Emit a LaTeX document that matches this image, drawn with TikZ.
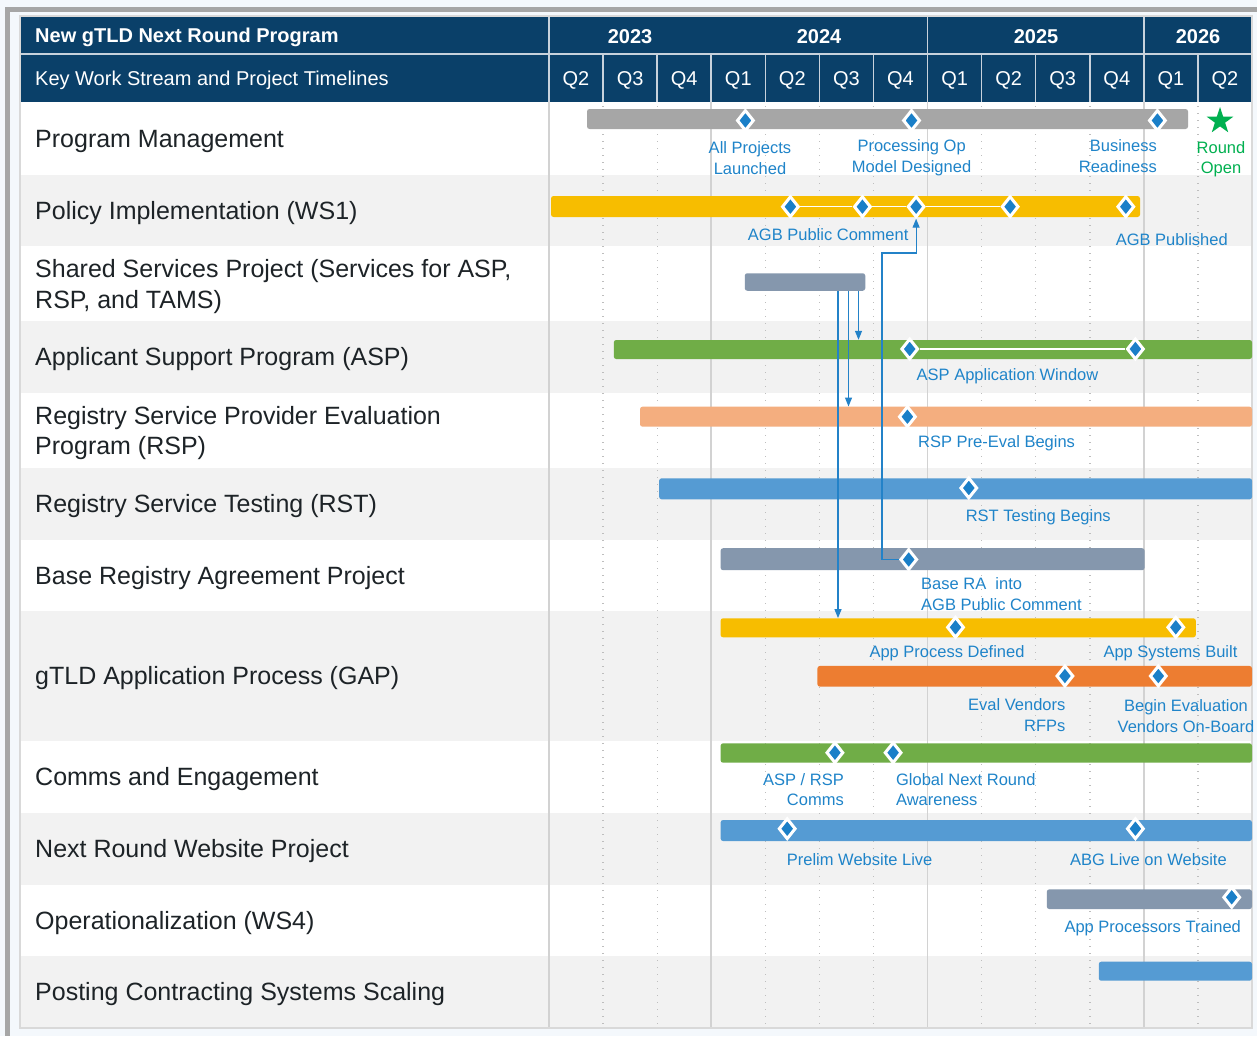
\documentclass[tikz,border=0pt]{standalone}
\usepackage{fontspec}
\setmainfont{Liberation Sans}
\usetikzlibrary{shapes.geometric,arrows.meta}
\definecolor{pagebg}{RGB}{244,248,252}
\definecolor{framegrey}{RGB}{166,166,166}
\definecolor{navy}{RGB}{10,64,105}
\definecolor{hdrline}{RGB}{200,210,220}
\definecolor{rowgrey}{RGB}{242,242,242}
\definecolor{gridgrey}{RGB}{210,210,210}
\definecolor{dotgrey}{RGB}{190,190,190}
\definecolor{ink}{RGB}{29,35,39}
\definecolor{pmgrey}{RGB}{166,166,166}
\definecolor{ylw}{RGB}{247,189,0}
\definecolor{slate}{RGB}{133,151,173}
\definecolor{grn}{RGB}{112,173,71}
\definecolor{salmon}{RGB}{244,174,127}
\definecolor{bblue}{RGB}{85,155,211}
\definecolor{orng}{RGB}{237,125,49}
\definecolor{msblue}{RGB}{26,127,200}
\definecolor{lblue}{RGB}{31,132,201}
\definecolor{flowblue}{RGB}{35,130,200}
\definecolor{okgreen}{RGB}{0,176,80}
\tikzset{
  bar/.style={rectangle, rounded corners=2.5pt, inner sep=0pt, minimum height=20pt},
  ms/.style={diamond, fill=msblue, draw=white, line width=3pt, minimum width=17pt, minimum height=21pt, inner sep=0pt},
  lbl/.style={text=lblue, font=\fontsize{16.5}{20.5}\selectfont, inner sep=0pt, yshift=-1.5pt},
  rowlbl/.style={anchor=west, text=ink, font=\fontsize{25}{30.5}\selectfont, inner sep=0pt, align=left, yshift=-2.5pt},
  hdr/.style={text=white, font=\fontsize{20}{24}\selectfont, inner sep=0pt, yshift=-2pt},
  flow/.style={draw=flowblue, line width=1.2pt, -{Triangle[length=9pt,width=7pt]}},
  link/.style={draw=white, line width=1.5pt},
  dotgrid/.style={draw=dotgrey, line width=1.4pt, dash pattern=on 1.4pt off 5.6pt},
}
\begin{document}
\begin{tikzpicture}[x=1pt, y=-1pt]
  \useasboundingbox (0,0) rectangle (1257,1036);
  \fill[pagebg] (0,0) rectangle (1257,1036);
  \fill[framegrey] (5,7) rectangle (1257,12);
  \fill[framegrey] (5,7) rectangle (10,1036);

  \fill[white] (20,102) rectangle (1252,1028);
  \fill[rowgrey] (20,175) rectangle (1252,246);
  \fill[rowgrey] (20,321) rectangle (1252,393);
  \fill[rowgrey] (20,468) rectangle (1252,540);
  \fill[rowgrey] (20,611) rectangle (1252,741);
  \fill[rowgrey] (20,813) rectangle (1252,885);
  \fill[rowgrey] (20,956) rectangle (1252,1028);

  \fill[navy] (20,16) rectangle (1252,102);
  \begin{scope}[draw=hdrline, line width=1.5pt]
    \draw (20,54) -- (1252,54);
    \draw (549,16) -- (549,102);
    \draw (927.5,16) -- (927.5,102);
    \draw (1143.8,16) -- (1143.8,102);
    \draw (603.1,54) -- (603.1,102);
    \draw (657.2,54) -- (657.2,102);
    \draw (711.2,54) -- (711.2,102);
    \draw (765.3,54) -- (765.3,102);
    \draw (819.4,54) -- (819.4,102);
    \draw (873.5,54) -- (873.5,102);
    \draw (981.6,54) -- (981.6,102);
    \draw (1035.7,54) -- (1035.7,102);
    \draw (1089.8,54) -- (1089.8,102);
    \draw (1197.9,54) -- (1197.9,102);
  \end{scope}

  \begin{scope}[draw=gridgrey, line width=1.5pt]
    \draw (549,102) -- (549,1028);
    \draw (711.2,102) -- (711.2,1028);
    \draw (927.5,102) -- (927.5,1028);
    \draw (1143.8,102) -- (1143.8,1028);
  \end{scope}
  \begin{scope}[dotgrid]
    \draw (603.1,106) -- (603.1,1028);
    \draw (657.2,106) -- (657.2,1028);
    \draw (765.3,106) -- (765.3,1028);
    \draw (819.4,106) -- (819.4,1028);
    \draw (873.5,106) -- (873.5,1028);
    \draw (981.6,106) -- (981.6,1028);
    \draw (1035.7,106) -- (1035.7,1028);
    \draw (1089.8,106) -- (1089.8,1028);
    \draw (1197.9,106) -- (1197.9,1028);
  \end{scope}
  \draw[draw=gridgrey!85, line width=1.5pt] (20,16) rectangle (1252,1028);

  \node[hdr, anchor=west, font=\bfseries\fontsize{20}{24}\selectfont] (title) at (35,35) {New gTLD Next Round Program};
  \node[hdr, anchor=west] (subtitle) at (35,78) {Key Work Stream and Project Timelines};
  \path[hdr, font=\bfseries\fontsize{20}{24}\selectfont]
    (630,35) node (y23) {2023}
    (819,35) node (y24) {2024}
    (1036,35) node (y25) {2025}
    (1198,35) node (y26) {2026};
  \path[hdr]
    (576,78) node (q1) {Q2}
    (630.1,78) node (q2) {Q3}
    (684.2,78) node (q3) {Q4}
    (738.3,78) node (q4) {Q1}
    (792.3,78) node (q5) {Q2}
    (846.4,78) node (q6) {Q3}
    (900.5,78) node (q7) {Q4}
    (954.6,78) node (q8) {Q1}
    (1008.7,78) node (q9) {Q2}
    (1062.7,78) node (q10) {Q3}
    (1116.8,78) node (q11) {Q4}
    (1170.9,78) node (q12) {Q1}
    (1225,78) node (q13) {Q2};

  \path[rowlbl]
    (35,139) node (r1) {Program Management}
    (35,210.5) node (r2) {Policy Implementation (WS1)}
    (35,284) node (r3) {Shared Services Project (Services for ASP,\\RSP, and TAMS)}
    (35,357) node (r4) {Applicant Support Program (ASP)}
    (35,430.5) node (r5) {Registry Service Provider Evaluation\\Program (RSP)}
    (35,504) node (r6) {Registry Service Testing (RST)}
    (35,575.5) node (r7) {Base Registry Agreement Project}
    (35,676) node (r8) {gTLD Application Process (GAP)}
    (35,777) node (r9) {Comms and Engagement}
    (35,849) node (r10) {Next Round Website Project}
    (35,920.5) node (r11) {Operationalization (WS4)}
    (35,992) node (r12) {Posting Contracting Systems Scaling};

  \node[bar, fill=pmgrey, minimum width=601pt] (pm) at (887.5,119) {};
  \node[bar, fill=ylw, minimum width=589pt, minimum height=21pt] (pol) at (845.5,206.5) {};
  \node[bar, fill=slate, minimum width=120.5pt, minimum height=17.5pt] (ss) at (805,282) {};
  \node[bar, fill=grn, minimum width=638.3pt, minimum height=19pt] (asp) at (932.9,349.5) {};
  \node[bar, fill=salmon, minimum width=612pt] (rsp) at (946,416.7) {};
  \node[bar, fill=bblue, minimum width=593pt, minimum height=21pt] (rst) at (955.6,488.8) {};
  \node[bar, fill=slate, minimum width=424pt, minimum height=22pt] (bra) at (932.6,559.2) {};
  \node[bar, fill=ylw, minimum width=475.3pt, minimum height=19pt] (gapa) at (958.2,627.8) {};
  \node[bar, fill=orng, minimum width=434.6pt, minimum height=20.7pt] (gapb) at (1034.7,676.3) {};
  \node[bar, fill=grn, minimum width=531.4pt, minimum height=19.4pt] (cmm) at (986.3,753) {};
  \node[bar, fill=bblue, minimum width=531.4pt, minimum height=21pt] (web) at (986.3,830.5) {};
  \node[bar, fill=slate, minimum width=205.2pt, minimum height=19.7pt] (ops) at (1149.4,899.2) {};
  \node[bar, fill=bblue, minimum width=153.3pt, minimum height=19pt] (pcs) at (1175.4,971.2) {};

  \path
    (745.4,120.5) node[ms] (m1) {}
    (911.5,120.5) node[ms] (m2) {}
    (1157.4,120.5) node[ms] (m3) {}
    (790.4,206.7) node[ms] (p1) {}
    (862.4,206.7) node[ms] (p2) {}
    (916.1,206.7) node[ms] (p3) {}
    (1010.1,206.7) node[ms] (p4) {}
    (1125.8,206.7) node[ms] (p5) {}
    (909.7,349) node[ms] (a1) {}
    (1135.4,349) node[ms] (a2) {}
    (907.4,416.7) node[ms] (v1) {}
    (968.8,488) node[ms] (s1) {}
    (908.7,559.5) node[ms] (b1) {}
    (955.5,627.3) node[ms] (g1) {}
    (1175.8,627.3) node[ms] (g2) {}
    (1064.9,676) node[ms] (g3) {}
    (1158.3,676) node[ms] (g4) {}
    (834.9,752.7) node[ms] (c1) {}
    (893.1,752.7) node[ms] (c2) {}
    (787.2,828.7) node[ms] (w1) {}
    (1135.4,828.7) node[ms] (w2) {}
    (1231.7,897.3) node[ms] (o1) {};
  \node[star, star points=5, star point ratio=2.6, fill=okgreen, minimum size=28pt, inner sep=0pt] (open) at (1220,121) {};

  \draw[link] (p1) -- (p2) -- (p3) -- (p4);
  \draw[link] (a1) -- (a2);

  \node[lbl, align=center] (t1) at (750,156.7) {All Projects\\Launched};
  \node[lbl, align=center] (t2) at (911.6,156) {Processing Op\\Model Designed};
  \node[lbl, align=right, anchor=east] (t3) at (1157,154.7) {Business\\Readiness};
  \node[lbl, align=center, text=okgreen] (t4) at (1221,157.5) {Round\\Open};
  \node[lbl, anchor=west] (t5) at (747.7,233.3) {AGB Public Comment};
  \node[lbl, anchor=west] (t6) at (1115.6,238.3) {AGB Published};
  \node[lbl, anchor=west] (t7) at (916.5,375) {ASP Application Window};
  \node[lbl, anchor=west] (t8) at (918,441.7) {RSP Pre-Eval Begins};
  \node[lbl, anchor=west] (t9) at (965.6,515.3) {RST Testing Begins};
  \node[lbl, align=left, anchor=west] (t10) at (921,592.5) {Base RA\ \ into\\AGB Public Comment};
  \node[lbl, anchor=west] (t11) at (869.3,651.7) {App Process Defined};
  \node[lbl, anchor=west] (t12) at (1103.3,651.7) {App Systems Built};
  \node[lbl, align=right, anchor=east] (t13) at (1065.6,713.7) {Eval Vendors\\RFPs};
  \node[lbl, align=center] (t14) at (1186,714.5) {Begin Evaluation\\Vendors On-Board};
  \node[lbl, align=right, anchor=east] (t15) at (844,788) {ASP / RSP\\Comms};
  \node[lbl, align=left, anchor=west] (t16) at (895.9,788) {Global Next Round\\Awareness};
  \node[lbl, anchor=west] (t17) at (786.7,857.7) {Prelim Website Live};
  \node[lbl, anchor=west] (t18) at (1070,857.7) {ABG Live on Website};
  \node[lbl, anchor=west] (t19) at (1064.3,926.7) {App Processors Trained};

  \coordinate (kink) at (882,253);
  \draw[flow] ([xshift=53.5pt]ss.south) -- ([xshift=53.5pt]ss.south |- asp.north);
  \draw[flow] ([xshift=43.5pt]ss.south) -- ([xshift=43.5pt]ss.south |- rsp.north);
  \draw[flow] ([xshift=33pt]ss.south) -- ([xshift=33pt]ss.south |- gapa.north);
  \draw[flow] (b1.west) -| (kink) -| (p3.south);
\end{tikzpicture}
\end{document}
